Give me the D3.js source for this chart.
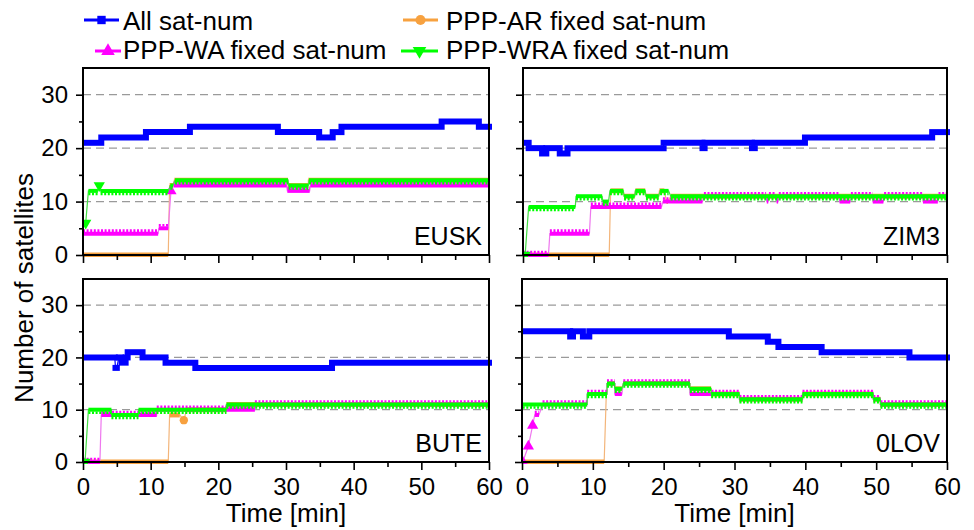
<!DOCTYPE html>
<html><head><meta charset="utf-8">
<script src="https://cdn.jsdelivr.net/npm/d3@7"></script>
<style>body{margin:0;background:#fff}svg{display:block;font-family:"Liberation Sans",Arial,sans-serif}</style>
</head><body><svg id="c" width="974" height="530"></svg>
<script>
// ---------- data (runs: [start min, end min, satellites]) ----------
const stations = ["EUSK", "ZIM3", "BUTE", "0LOV"];
const seriesNames = ["All sat-num", "PPP-AR fixed sat-num", "PPP-WA fixed sat-num", "PPP-WRA fixed sat-num"];
const timeTicks = [0, 10, 20, 30, 40, 50, 60];
const satTicks = [0, 10, 20, 30];

const EUSK_all = [[0,2.7,21],[2.7,9.3,22],[9.3,15.8,23],[15.8,28.8,24],[28.8,34.9,23],[34.9,36.9,22],[36.9,38.2,23],[38.2,53,24],[53,58.5,25],[58.5,60,24]];
const EUSK_ar  = [[0,12.6,0],[12.8,13.3,13],[13.5,30.3,14],[30.3,33.3,13],[33.3,60,14]];
const EUSK_wa  = [[0,11.1,4],[11.2,12.6,5],[13.0,13.0,12],[13.4,30.1,13],[30.2,33.5,12],[33.6,60,13]];
const EUSK_wra = [[0.4,0.4,6],[0.8,2.2,12],[2.4,2.4,13],[2.6,12.6,12],[12.9,13.3,13],[13.6,30.3,14],[30.4,33.3,13],[33.4,60,14]];

const ZIM3_all = [[0,0.8,21],[0.8,2.7,20],[2.7,3.3,19],[3.3,5.2,20],[5.2,6.3,19],[6.3,19.9,20],[19.9,25.4,21],[25.4,25.7,20],[25.7,32.4,21],[32.4,32.8,20],[32.8,39.9,21],[39.9,57.9,22],[57.9,60,23]];
const ZIM3_ar  = [[0,12.2,0],[12.4,14.2,12],[14.3,15.8,11],[15.9,17.3,12],[17.4,19.2,11],[19.3,20.0,12],[20.3,20.5,10],[20.9,60,11]];
const ZIM3_wa  = [[0,3.6,0],[3.8,9.4,4],[9.6,19.6,9],[19.8,25.4,10],[25.6,34.4,11],[34.5,34.7,10],[34.8,35.8,11],[35.9,36.1,10],[36.2,44.8,11],[44.8,46.3,10],[46.4,49.5,11],[49.5,51.0,10],[51.1,56.6,11],[56.6,58.7,10],[58.8,60,11]];
const ZIM3_wra = [[0.3,0.3,0],[0.8,7.4,9],[7.5,11.2,11],[11.3,12.1,10],[12.3,14.2,12],[14.3,15.8,11],[15.9,17.3,12],[17.4,19.2,11],[19.4,20.6,12],[20.9,60,11]];

const BUTE_all = [[0,4.7,20],[4.8,5.0,18],[5.3,5.6,20],[5.7,6.3,19],[6.3,6.6,20],[6.6,8.8,21],[8.8,12.2,20],[12.2,16.6,19],[16.6,36.8,18],[36.8,60,19]];
const BUTE_ar  = [[0,12.6,0],[12.8,14.3,9],[14.9,14.9,8],[15.3,21.2,10],[21.2,60,11]];
const BUTE_wa  = [[0,2.5,0],[2.7,10.9,9],[10.9,25.4,10],[25.4,60,11]];
const BUTE_wra = [[0.3,0.3,0],[0.8,4.2,10],[4.2,8.2,9],[8.2,21.2,10],[21.2,60,11]];

const OLOV_all = [[0,6.8,25],[6.8,7.2,24],[7.2,8.6,25],[8.6,9.5,24],[9.5,29.2,25],[29.2,34.7,24],[34.7,36.2,23],[36.2,42.3,22],[42.3,54.7,21],[54.7,60,20]];
const OLOV_ar  = [[0.1,11.6,0],[11.9,12.0,13],[12.0,13.1,15],[13.1,14.1,14],[14.3,23.7,15],[23.7,26.7,14],[26.7,30.7,13],[30.7,39.6,12],[39.6,49.6,13],[49.6,50.6,12],[50.6,60,11]];
const OLOV_wa  = [[0.1,0.1,0],[0.9,0.9,3],[1.5,1.5,7],[1.8,2.4,9],[2.9,9.2,11],[9.2,12.0,13],[12.0,13.1,15],[13.1,14.1,13],[14.3,23.7,15],[23.7,30.7,13],[30.7,39.6,12],[39.6,49.6,13],[49.6,50.6,12],[50.6,60,11]];
const OLOV_wra = [[0.1,9.2,11],[9.2,12.0,13],[12.0,13.1,15],[13.1,14.1,14],[14.3,23.7,15],[23.7,26.7,14],[26.7,30.7,13],[30.7,39.6,12],[39.6,49.6,13],[49.6,50.6,12],[50.6,60,11]];

const stationSeries = {
  EUSK: [EUSK_all, EUSK_ar, EUSK_wa, EUSK_wra],
  ZIM3: [ZIM3_all, ZIM3_ar, ZIM3_wa, ZIM3_wra],
  BUTE: [BUTE_all, BUTE_ar, BUTE_wa, BUTE_wra],
  "0LOV": [OLOV_all, OLOV_ar, OLOV_wa, OLOV_wra]
};

// ---------- styles / layout ----------
const styles = [
  {color:"#0000ff", thin:"#0000ff", band:6, cap:"square", serr:0, sym:d3.symbolSquare, rot:0},
  {color:"#f7a13f", thin:"#f3b57a", band:5, cap:"butt", serr:0, sym:d3.symbolCircle, rot:0},
  {color:"#ff00ff", thin:"#ee77ee", band:4, cap:"butt", serr:-3, sym:d3.symbolTriangle, rot:0},
  {color:"#00ff00", thin:"#44dd44", band:4, cap:"butt", serr:3, sym:d3.symbolTriangle, rot:180}
];
const panels = [
  {x0:83, x1:489, y0:68, y1:255, left:true, bottom:false},
  {x0:523, x1:947, y0:68, y1:255, left:false, bottom:false},
  {x0:83, x1:489, y0:279, y1:462, left:true, bottom:true},
  {x0:522, x1:947, y0:279, y1:462, left:false, bottom:true}
];

const svg = d3.select("#c");

stations.forEach((st, pi) => {
  const p = panels[pi];
  const x = d3.scaleLinear().domain([0, 60]).range([p.x0, p.x1]);
  const y = d3.scaleLinear().domain([0, 35]).range([p.y1, p.y0]);
  const g = svg.append("g");

  // grid
  g.selectAll("line.grid").data(satTicks.filter(v => v > 0)).join("line")
    .attr("x1", p.x0).attr("x2", p.x1).attr("y1", d => y(d)).attr("y2", d => y(d))
    .attr("stroke", "#9a9a9a").attr("stroke-width", 1.3).attr("stroke-dasharray", "8,5");

  const clipId = "clip" + pi;
  svg.append("clipPath").attr("id", clipId).append("rect")
    .attr("x", p.x0).attr("y", p.y0 - 2).attr("width", p.x1 - p.x0 + 4).attr("height", p.y1 - p.y0 + 4);
  const dg = g.append("g").attr("clip-path", `url(#${clipId})`);

  stationSeries[st].forEach((runs, si) => {
    const s = styles[si];
    const pts = runs.flatMap(r => [[r[0], r[2]], [r[1], r[2]]]);
    dg.append("path").datum(pts)
      .attr("d", d3.line().x(d => x(d[0])).y(d => y(d[1])))
      .attr("fill", "none").attr("stroke", s.thin).attr("stroke-width", 1.2);
    const longRuns = runs.filter(r => r[1] > r[0]);
    dg.selectAll(null).data(longRuns).join("line")
      .attr("x1", d => x(d[0])).attr("x2", d => x(d[1]))
      .attr("y1", d => y(d[2])).attr("y2", d => y(d[2]))
      .attr("stroke", s.color).attr("stroke-width", s.band).attr("stroke-linecap", s.cap);
    if (s.serr !== 0) {
      dg.selectAll(null).data(longRuns).join("line")
        .attr("x1", d => x(d[0])).attr("x2", d => x(d[1]))
        .attr("y1", d => y(d[2]) + s.serr).attr("y2", d => y(d[2]) + s.serr)
        .attr("stroke", s.color).attr("stroke-width", 2.6).attr("stroke-dasharray", "2,1.6");
    }
    const pointRuns = runs.filter(r => r[1] === r[0]);
    dg.selectAll(null).data(pointRuns).join("path")
      .attr("d", d3.symbol().type(s.sym).size(si === 0 ? 40 : 55))
      .attr("transform", d => `translate(${x(d[0])},${y(d[2])}) rotate(${s.rot})`)
      .attr("fill", s.color);
  });

  // axes
  const tickStyle = sel => {
    sel.select(".domain").remove();
    sel.selectAll("line").attr("stroke", "#000").attr("stroke-width", 1.6);
    sel.selectAll("text").attr("font-size", 24).attr("fill", "#000")
      .attr("font-family", '"Liberation Sans", Arial, sans-serif');
  };
  const xMajor = d3.axisBottom(x).tickValues(timeTicks).tickSize(8).tickPadding(8);
  if (!p.bottom) xMajor.tickFormat("");
  g.append("g").attr("transform", `translate(0,${p.y1})`).call(xMajor).call(tickStyle);
  g.append("g").attr("transform", `translate(0,${p.y1})`)
    .call(d3.axisBottom(x).tickValues(d3.range(5, 60, 10)).tickSize(5).tickFormat("")).call(tickStyle);

  const yMajor = d3.axisLeft(y).tickValues(satTicks).tickSize(7).tickPadding(8);
  if (!p.left) yMajor.tickFormat("");
  g.append("g").attr("transform", `translate(${p.x0},0)`).call(yMajor).call(tickStyle);
  g.append("g").attr("transform", `translate(${p.x0},0)`)
    .call(d3.axisLeft(y).tickValues([5, 15, 25]).tickSize(4).tickFormat("")).call(tickStyle);

  // frame
  g.append("rect").attr("x", p.x0).attr("y", p.y0).attr("width", p.x1 - p.x0).attr("height", p.y1 - p.y0)
    .attr("fill", "none").attr("stroke", "#000").attr("stroke-width", 2);

  // station label
  g.append("text").attr("x", p.x1 - 7).attr("y", p.y1 - 10).attr("text-anchor", "end")
    .attr("font-size", 25).attr("fill", "#000").text(st);

  if (p.bottom) {
    g.append("text").attr("x", (p.x0 + p.x1) / 2).attr("y", 522).attr("text-anchor", "middle")
      .attr("font-size", 26).attr("fill", "#000").text("Time [min]");
  }
});

// y axis title
svg.append("text").attr("transform", "translate(33,288) rotate(-90)").attr("text-anchor", "middle")
  .attr("font-size", 26).attr("fill", "#000").text("Number of satellites");

// legend
const legendItems = [
  {i:0, x1:84, x2:119, tx:123, ly:20, ty:30},
  {i:1, x1:403, x2:438, tx:446, ly:20, ty:30},
  {i:2, x1:95, x2:121, tx:123, ly:51, ty:59},
  {i:3, x1:401, x2:438, tx:446, ly:51, ty:59}
];
const lg = svg.append("g");
legendItems.forEach(it => {
  const s = styles[it.i];
  lg.append("line").attr("x1", it.x1).attr("x2", it.x2).attr("y1", it.ly).attr("y2", it.ly)
    .attr("stroke", s.color).attr("stroke-width", 3);
  lg.append("path").attr("d", d3.symbol().type(s.sym).size(it.i === 0 ? 70 : 80))
    .attr("transform", `translate(${(it.x1 + it.x2) / 2},${it.ly}) rotate(${s.rot})`)
    .attr("fill", s.color);
  lg.append("text").attr("x", it.tx).attr("y", it.ty).attr("font-size", 26).attr("fill", "#000")
    .text(seriesNames[it.i]);
});
</script></body></html>
